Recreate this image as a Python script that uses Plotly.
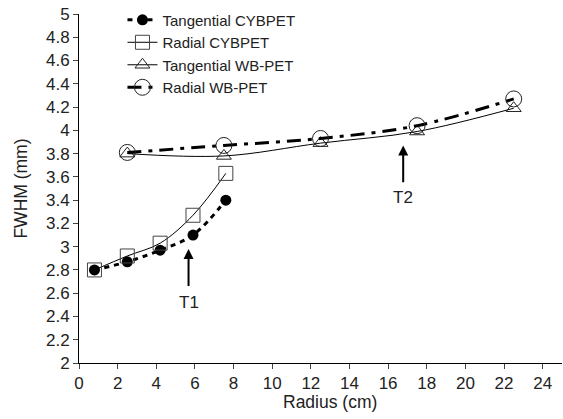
import plotly.graph_objects as go

cyb_r = [0.8, 2.5, 4.2, 5.9, 7.6]
tan_cyb = [2.80, 2.87, 2.97, 3.10, 3.40]
rad_cyb = [2.80, 2.92, 3.03, 3.27, 3.63]
wb_r = [2.5, 7.5, 12.5, 17.5, 22.5]
tan_wb = [3.80, 3.78, 3.89, 3.99, 4.19]
rad_wb = [3.81, 3.87, 3.93, 4.04, 4.27]

x_ticks = list(range(0, 25, 2))
y_ticks = [round(2 + 0.2 * i, 1) for i in range(16)]

FONT = "Liberation Sans, Arial, sans-serif"
TXT = "#222"

fig = go.Figure()
fig.add_trace(go.Scatter(
    x=cyb_r, y=tan_cyb, name="Tangential CYBPET", mode="lines+markers",
    line=dict(color="black", width=3, dash="5px,5px", shape="spline"),
    marker=dict(symbol="circle", size=11, color="black")))
fig.add_trace(go.Scatter(
    x=cyb_r, y=rad_cyb, name="Radial CYBPET", mode="lines+markers",
    line=dict(color="black", width=1, shape="spline"),
    marker=dict(symbol="square-open", size=14, color="#444", line=dict(width=1))))
fig.add_trace(go.Scatter(
    x=wb_r, y=tan_wb, name="Tangential WB-PET", mode="lines+markers",
    line=dict(color="black", width=1, shape="spline"),
    marker=dict(symbol="triangle-up-open", size=13, color="#222", line=dict(width=1))))
fig.add_trace(go.Scatter(
    x=wb_r, y=rad_wb, name="Radial WB-PET", mode="lines+markers",
    line=dict(color="black", width=3, dash="14px,7px,4px,7px", shape="spline"),
    marker=dict(symbol="circle-open", size=16, color="#222", line=dict(width=1))))

# arrows
fig.add_annotation(x=5.67, y=2.98, ax=5.67, ay=2.65, xref="x", yref="y",
                   axref="x", ayref="y", showarrow=True, arrowhead=2,
                   arrowsize=1, arrowwidth=2, arrowcolor="black", text="")
fig.add_annotation(x=5.67, y=2.52, text="T1", showarrow=False,
                   font=dict(size=17, color=TXT, family=FONT))
fig.add_annotation(x=16.78, y=3.87, ax=16.78, ay=3.54, xref="x", yref="y",
                   axref="x", ayref="y", showarrow=True, arrowhead=2,
                   arrowsize=1, arrowwidth=2, arrowcolor="black", text="")
fig.add_annotation(x=16.78, y=3.42, text="T2", showarrow=False,
                   font=dict(size=17, color=TXT, family=FONT))

# axis titles
fig.add_annotation(x=-0.122, y=0.5, xref="paper", yref="paper", text="FWHM (mm)",
                   textangle=-90, showarrow=False, xanchor="center", yanchor="middle",
                   font=dict(size=17.5, color=TXT, family=FONT))
fig.add_annotation(x=0.52, y=-0.113, xref="paper", yref="paper", text="Radius (cm)",
                   showarrow=False, xanchor="center", yanchor="middle",
                   font=dict(size=17.5, color=TXT, family=FONT))

fig.update_layout(
    width=563, height=419,
    margin=dict(l=79, r=1, t=14, b=56),
    plot_bgcolor="white", paper_bgcolor="white",
    font=dict(family=FONT, size=17, color=TXT),
    showlegend=True,
    legend=dict(x=0.09, y=1.03, xanchor="left", yanchor="top",
                bgcolor="rgba(0,0,0,0)", font=dict(size=15, color=TXT),
                tracegroupgap=0, itemwidth=30),
)
fig.update_xaxes(range=[0, 25], tickvals=x_ticks, ticks="outside", ticklen=5,
                 showline=True, linecolor="black", linewidth=1, showgrid=False,
                 zeroline=False, automargin=False)
fig.update_yaxes(range=[2, 5], tickvals=y_ticks, ticktext=[f"{v:g}" for v in y_ticks],
                 ticks="outside", ticklen=5,
                 showline=True, linecolor="black", linewidth=1, showgrid=False,
                 zeroline=False, automargin=False)

fig.write_html("out.html", config={"displayModeBar": False},
               post_script="document.body.style.margin='0';")
